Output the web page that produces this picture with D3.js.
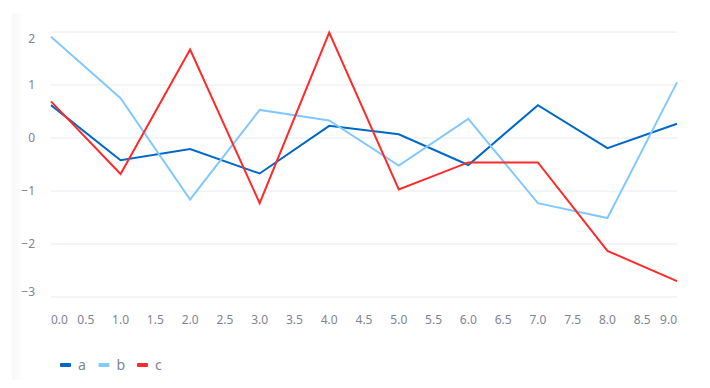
<!DOCTYPE html>
<html>
<head>
<meta charset="utf-8">
<script src="https://cdn.jsdelivr.net/npm/d3@7"></script>
<style>
  body { margin: 0; background: #fff; }
  text { font-family: "Noto Sans", sans-serif; }
</style>
</head>
<body>
<div id="chart"></div>
<script>
/* DATA */
const xValues = [0, 1, 2, 3, 4, 5, 6, 7, 8, 9];
const seriesA = [0.62, -0.42, -0.21, -0.67, 0.23, 0.07, -0.51, 0.62, -0.19, 0.27];
const seriesB = [1.91, 0.75, -1.16, 0.53, 0.33, -0.52, 0.36, -1.23, -1.51, 1.05];
const seriesC = [0.69, -0.68, 1.67, -1.23, 1.99, -0.97, -0.46, -0.46, -2.13, -2.70];
const seriesNames = ["a", "b", "c"];
const xTicks = d3.range(0, 9.01, 0.5);
const yTicks = [-3, -2, -1, 0, 1, 2];

/* CONSTANTS */
const width = 710,
  height = 388,
  margin = { top: 32, bottom: 91, left: 51, right: 33 };
const colors = ["#0068c9", "#83c9ff", "#ff2b2b"];

const svg = d3.select("#chart")
  .append("svg")
  .attr("width", width)
  .attr("height", height);

// faint shade down the left side
const grad = svg.append("defs").append("linearGradient")
  .attr("id", "shade");
grad.append("stop").attr("offset", "0%").attr("stop-color", "#f8f8fa");
grad.append("stop").attr("offset", "100%").attr("stop-color", "#ffffff");
svg.append("rect")
  .attr("x", 12).attr("y", 13)
  .attr("width", 12).attr("height", 367)
  .attr("fill", "url(#shade)");

// scales
const xScale = d3.scaleLinear()
  .domain([0, 9])
  .range([margin.left, width - margin.right]);

const yScale = d3.scaleLinear()
  .domain([-3, 2])
  .range([height - margin.bottom, margin.top]);

// gridlines
svg.append("g")
  .selectAll("line")
  .data(yTicks)
  .join("line")
  .attr("x1", xScale(0))
  .attr("x2", xScale(9))
  .attr("y1", d => yScale(d))
  .attr("y2", d => yScale(d))
  .attr("stroke", "#e6eaf1")
  .attr("stroke-width", 1);

// y axis labels (flush at the ends)
svg.append("g")
  .selectAll("text")
  .data(yTicks)
  .join("text")
  .attr("x", 35)
  .attr("y", d => yScale(d))
  .attr("dy", d => d === 2 ? "0.95em" : d === -3 ? "-0.1em" : "0.35em")
  .attr("text-anchor", "end")
  .attr("fill", "#808495")
  .attr("font-size", 12)
  .text(d => d3.format("")(d).replace("-", "\u2212"));

// x axis labels (flush at the ends)
svg.append("g")
  .selectAll("text")
  .data(xTicks)
  .join("text")
  .attr("x", d => xScale(d))
  .attr("y", 324)
  .attr("text-anchor", (d, i) => i === 0 ? "start" : i === xTicks.length - 1 ? "end" : "middle")
  .attr("fill", "#808495")
  .attr("font-size", 12)
  .text(d => d3.format(".1f")(d));

// lines
const allSeries = [seriesA, seriesB, seriesC];
const lineGen = d3.line()
  .x((d, i) => xScale(xValues[i]))
  .y(d => yScale(d));

svg.append("g")
  .selectAll("path")
  .data(allSeries)
  .join("path")
  .attr("fill", "none")
  .attr("stroke", (d, i) => colors[i])
  .attr("stroke-width", 2)
  .attr("stroke-linejoin", "miter")
  .attr("d", d => lineGen(d));

// legend
const legend = svg.append("g")
  .attr("transform", "translate(60, 365)");

const item = legend.selectAll("g")
  .data(seriesNames)
  .join("g")
  .attr("transform", (d, i) => `translate(${i * 38.5}, 0)`);

item.append("rect")
  .attr("x", 0).attr("y", -2)
  .attr("width", 11).attr("height", 4)
  .attr("rx", 1)
  .attr("fill", (d, i) => colors[i]);

item.append("text")
  .attr("x", 18)
  .attr("y", 0)
  .attr("dy", "0.35em")
  .attr("fill", "#808495")
  .attr("font-size", 14)
  .text(d => d);
</script>
</body>
</html>
